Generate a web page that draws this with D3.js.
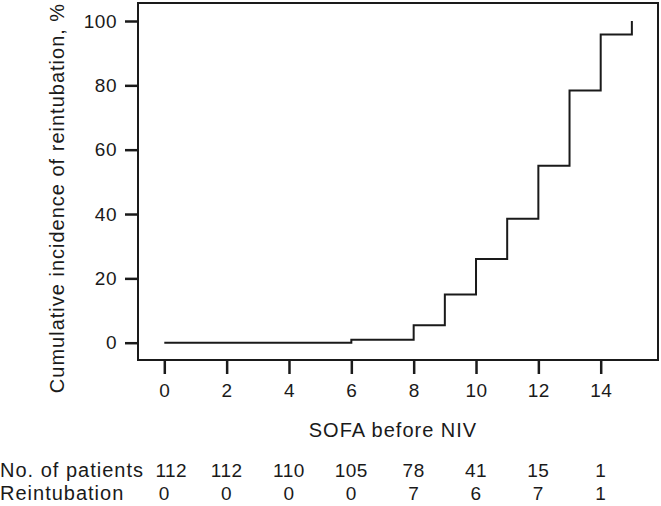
<!DOCTYPE html>
<html>
<head>
<meta charset="utf-8">
<script src="https://cdn.jsdelivr.net/npm/d3@7"></script>
<style>
  html, body { margin: 0; padding: 0; background: #fff; }
  svg text { font-family: "Liberation Sans", Arial, Helvetica, sans-serif; fill: #1a1a1a; }
</style>
</head>
<body>
<svg id="chart" width="661" height="506"></svg>
<script>
// ---- data ----
const sofa = [0, 6, 8, 9, 10, 11, 12, 13, 14, 15];
const incidence = [0, 0.9, 5.4, 15.0, 26.0, 38.5, 55.0, 78.4, 95.8, 100];
const xTicks = [0, 2, 4, 6, 8, 10, 12, 14];
const yTicks = [0, 20, 40, 60, 80, 100];
const riskCols = [0, 2, 4, 6, 8, 10, 12, 14];
const patients = [112, 112, 110, 105, 78, 41, 15, 1];
const reintubation = [0, 0, 0, 0, 7, 6, 7, 1];
const xTitle = "SOFA before NIV";
const yTitle = "Cumulative incidence of reintubation, %";
const rowLabels = ["No. of patients", "Reintubation"];

// ---- layout ----
const svg = d3.select("#chart");
const frame = { left: 138, top: 3, right: 658, bottom: 360 };
const x = d3.scaleLinear().domain([0, 14]).range([164.3, 600.7]);
const y = d3.scaleLinear().domain([0, 100]).range([342.7, 21]);
const ink = "#1a1a1a";

// frame
svg.append("rect")
  .attr("x", frame.left).attr("y", frame.top)
  .attr("width", frame.right - frame.left).attr("height", frame.bottom - frame.top)
  .attr("fill", "none").attr("stroke", ink).attr("stroke-width", 2);

// y axis
const yAxis = svg.append("g")
  .attr("transform", `translate(${frame.left},0)`)
  .call(d3.axisLeft(y).tickValues(yTicks).tickSize(13).tickPadding(8));
yAxis.select(".domain").remove();
yAxis.selectAll(".tick line").attr("stroke", ink).attr("stroke-width", 2.5);
yAxis.selectAll(".tick text").style("font-size", "19px").attr("letter-spacing", "0.5px").attr("fill", ink);

// x axis
const xAxis = svg.append("g")
  .attr("transform", `translate(0,${frame.bottom})`)
  .call(d3.axisBottom(x).tickValues(xTicks).tickSize(14).tickPadding(10));
xAxis.select(".domain").remove();
xAxis.selectAll(".tick line").attr("stroke", ink).attr("stroke-width", 2.5);
xAxis.selectAll(".tick text").style("font-size", "19px").attr("letter-spacing", "0.5px").attr("fill", ink);

// step line
const line = d3.line()
  .x((d, i) => x(sofa[i]))
  .y(d => y(d))
  .curve(d3.curveStepAfter);
svg.append("path")
  .datum(incidence)
  .attr("d", line)
  .attr("fill", "none")
  .attr("stroke", ink)
  .attr("stroke-width", 2);

// axis titles
svg.append("text")
  .attr("x", 393).attr("y", 436.5)
  .attr("text-anchor", "middle")
  .attr("letter-spacing", "1px")
  .style("font-size", "20px")
  .text(xTitle);

svg.append("text")
  .attr("transform", "translate(64,198) rotate(-90)")
  .attr("text-anchor", "middle")
  .attr("letter-spacing", "1px")
  .style("font-size", "20px")
  .text(yTitle);

// risk table
const rowY = [476.5, 500];
rowLabels.forEach((lab, r) => {
  svg.append("text")
    .attr("x", 0).attr("y", rowY[r])
    .attr("letter-spacing", "1px")
    .style("font-size", "20px")
    .text(lab);
});
[patients, reintubation].forEach((vals, r) => {
  svg.append("g").selectAll("text")
    .data(vals)
    .join("text")
    .attr("x", (d, i) => x(riskCols[i]) + (r === 0 && i === 0 ? 7 : 0))
    .attr("y", rowY[r])
    .attr("text-anchor", "middle")
    .attr("letter-spacing", "0.5px")
    .style("font-size", "19px")
    .text(d => d);
});
</script>
</body>
</html>
